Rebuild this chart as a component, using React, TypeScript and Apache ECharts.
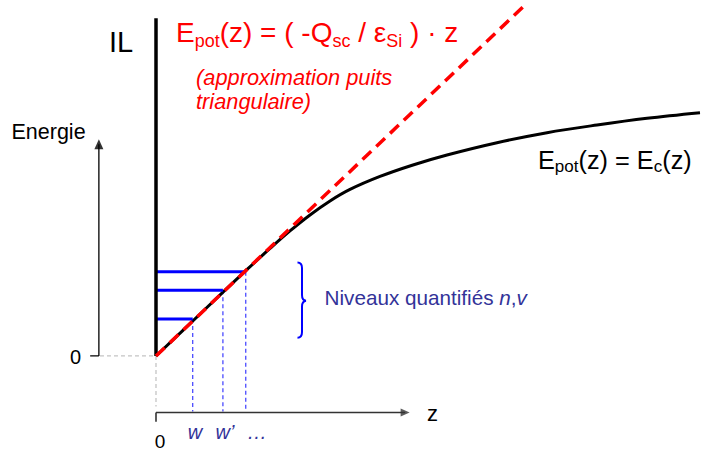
import React, { useEffect, useRef } from "react";
import * as echarts from "echarts";

// ---- data (diagram units) ----
const curveZ = [0, 0.83, 1.654, 2.096, 2.463, 2.831, 3.199, 3.566, 4.118, 4.724, 5.349, 6.268, 7.188, 8.107, 9.026, 10.0];
const curveE = [0, 0.79, 1.572, 1.976, 2.298, 2.592, 2.849, 3.061, 3.3, 3.511, 3.695, 3.921, 4.105, 4.246, 4.369, 4.472];
const approxZ = [0, 6.75];
const approxE = [0, 6.42];
const levelE = [0.68, 1.21, 1.55];
const levelW = [0.675, 1.23, 1.65];
const wallTop = 6.21;
const zTickLabels = ["w", "w\u2019", "\u2026"];
const zeroLabel = "0";

// axis geometry (diagram units)
const eAxisZ = -1.05;
const eAxisTop = 3.89;
const zAxisE = -1.04;
const zAxisEnd = 4.58;
const dropBottom = -1.02;

const FONT = '"Liberation Sans", Arial, Helvetica, sans-serif';
const RED = "#ff0000";
const BLUE = "#0000ff";
const NAVY = "#333399";

const braceD =
  "M297.5 262.5 C301 262.5 302 264.5 302 268 L302 295 C302 298.5 303.5 300.5 306 300.7 C303.5 301 302 303 302 306.5 L302 332 C302 335.5 301 337.7 297.5 337.7";
echarts.graphic.registerShape("brace", echarts.graphic.extendPath(braceD, {}) as any);

function seg(pts: number[][], color: string, width: number, type: any = "solid", z = 2, smooth: any = false) {
  return {
    type: "line",
    data: pts,
    symbol: "none",
    smooth,
    silent: true,
    z,
    lineStyle: { color, width, type, cap: "butt" },
  };
}

function txt(x: number, y: number, text: string, o: any = {}) {
  const align = o.align ?? "left";
  const va = o.va ?? "middle";
  return {
    type: "text",
    x,
    y,
    silent: true,
    z: 100,
    style: {
      text,
      fontFamily: FONT,
      fontSize: o.size ?? 20,
      fontStyle: o.italic ? "italic" : "normal",
      fill: o.color ?? "#000",
      align,
      verticalAlign: va,
      textAlign: align,
      textVerticalAlign: va,
      lineHeight: o.lh,
      rich: o.rich,
    },
  };
}

export default function App() {
  const ref = useRef<HTMLDivElement>(null);
  useEffect(() => {
    if (!ref.current) return;
    const chart = echarts.init(ref.current, null, { renderer: "svg" });

    const series: any[] = [];
    // approximation line (red dashed)
    series.push(seg(approxZ.map((z, i) => [z, approxE[i]]), RED, 3.5, [12, 7], 5));
    // real potential curve
    series.push(seg(curveZ.map((z, i) => [z, curveE[i]]), "#000", 3, "solid", 3, 0.35));
    // wall (IL)
    series.push(seg([[0, 0], [0, wallTop]], "#000", 3.5, "solid", 4));
    // quantized levels
    levelE.forEach((e, i) => {
      series.push(seg([[0, e], [levelW[i], e]], BLUE, 3, "solid", 3));
      series.push(seg([[levelW[i], e], [levelW[i], dropBottom]], "#3b3bff", 1.2, [4, 3], 2));
    });
    // gray dashed guides from origin
    series.push(seg([[0, 0], [0, -0.93]], "#c4c4c4", 1.3, [4, 3], 1));
    series.push(seg([[eAxisZ + 0.02, 0], [-0.05, 0]], "#c4c4c4", 1.3, [4, 3], 1));
    // energy axis
    series.push(seg([[eAxisZ, 0], [eAxisZ, eAxisTop]], "#000", 1.3, "solid", 2));
    series.push(seg([[-1.21, 0], [eAxisZ, 0]], "#000", 1.3, "solid", 2));
    // z axis
    series.push(seg([[0, zAxisE], [zAxisEnd, zAxisE]], "#333", 1.6, "solid", 2));
    series.push(seg([[0, zAxisE], [0, -1.21]], "#333", 1.6, "solid", 2));
    // arrow heads
    series.push({
      type: "scatter",
      silent: true,
      z: 3,
      data: [
        { value: [eAxisZ, eAxisTop], symbol: "triangle", symbolSize: [9, 10], symbolRotate: 0, itemStyle: { color: "#000" } },
        { value: [zAxisEnd, zAxisE], symbol: "triangle", symbolSize: [8, 9], symbolRotate: -90, itemStyle: { color: "#333" } },
      ],
    });

    const mRed = { fontSize: 28, lineHeight: 34, fontFamily: FONT, fill: RED };
    const sRed = { fontSize: 18, lineHeight: 18, fontFamily: FONT, fill: RED, verticalAlign: "bottom" };
    const mBlk = { fontSize: 25.3, lineHeight: 31, fontFamily: FONT, fill: "#000" };
    const sBlk = { fontSize: 17, lineHeight: 17, fontFamily: FONT, fill: "#000", verticalAlign: "bottom" };

    const graphic: any[] = [
      txt(109, 41.6, "IL", { size: 29 }),
      txt(176, 15.6, "{m|E}{s|pot}{m|(z) = ( -Q}{s|sc}{m| / \u03b5}{s|Si}{m| ) \u00b7 z}", {
        va: "top",
        color: RED,
        size: 28,
        rich: { m: mRed, s: sRed },
      }),
      txt(196, 65, "(approximation puits\ntriangulaire)", { va: "top", color: RED, size: 21.8, italic: true, lh: 24 }),
      txt(538, 144, "{m|E}{s|pot}{m|(z) = E}{s|c}{m|(z)}", {
        va: "top",
        size: 25.3,
        rich: { m: mBlk, s: sBlk },
      }),
      txt(11.5, 132, "Energie", { size: 21.5 }),
      txt(324.5, 297.4, "{a|Niveaux quantifi\u00e9s }{i|n}{a|,}{i|v}", {
        size: 20.7,
        color: NAVY,
        rich: {
          a: { fontSize: 20.7, fontFamily: FONT, fill: NAVY },
          i: { fontSize: 20.7, fontFamily: FONT, fill: NAVY, fontStyle: "italic" },
        },
      }),
      txt(81, 357, zeroLabel, { size: 20, align: "right" }),
      txt(160, 441.5, zeroLabel, { size: 19, align: "center" }),
      txt(432.5, 413, "z", { size: 22, align: "center" }),
      txt(195, 432, zTickLabels[0], { size: 20, align: "center", italic: true, color: NAVY }),
      txt(225, 432, zTickLabels[1], { size: 20, align: "center", italic: true, color: NAVY }),
      txt(257, 432, zTickLabels[2], { size: 20, align: "center", italic: true, color: NAVY }),
      {
        type: "brace",
        x: 0,
        y: 0,
        silent: true,
        z: 50,
        style: { stroke: BLUE, lineWidth: 2, fill: "none" },
      },
    ];

    chart.setOption({
      animation: false,
      backgroundColor: "#ffffff",
      grid: { left: 3.68, right: 1, top: 2.4, bottom: 10 },
      xAxis: { type: "value", min: -2.8, max: 10, show: false },
      yAxis: { type: "value", min: -1.6, max: 6.5, show: false },
      series,
      graphic,
    });
    return () => chart.dispose();
  }, []);

  return (
    <div
      ref={ref}
      style={{ position: "fixed", left: 0, top: 0, width: 701, height: 453, background: "#fff" }}
    />
  );
}
